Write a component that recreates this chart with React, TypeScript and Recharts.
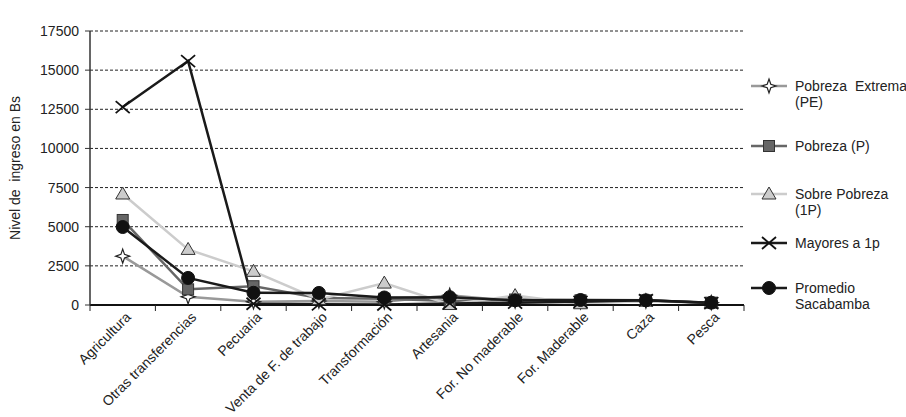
import React from 'react';
import { LineChart, Line, XAxis, YAxis, CartesianGrid, Legend } from 'recharts';

const categories = [
  'Agricultura',
  'Otras transferencias',
  'Pecuaria',
  'Venta de F. de trabajo',
  'Transformación',
  'Artesania',
  'For. No maderable',
  'For. Maderable',
  'Caza',
  'Pesca',
];

const pobrezaExtrema = [3120, 520, 200, 250, 200, 620, 250, 200, 250, 150];
const pobreza = [5430, 1000, 1200, 450, 400, 250, 350, 300, 300, 150];
const sobrePobreza = [7090, 3550, 2150, 350, 1400, 30, 600, 80, 250, 150];
const mayores = [12640, 15580, 80, 40, 30, 100, 150, 200, 300, 120];
const promedio = [4980, 1730, 780, 770, 480, 500, 300, 320, 300, 150];

const yTicks = [0, 2500, 5000, 7500, 10000, 12500, 15000, 17500];

const title = 'SACABAMBA';
const yLabel = 'Nivel de  ingreso en Bs';

const seriesDefs = [
  { key: 'pe', label: ['Pobreza  Extrema', '(PE)'], values: pobrezaExtrema, color: '#999999', marker: 'star' },
  { key: 'p', label: ['Pobreza (P)'], values: pobreza, color: '#666666', marker: 'square' },
  { key: 'sp', label: ['Sobre Pobreza', '(1P)'], values: sobrePobreza, color: '#cccccc', marker: 'triangle' },
  { key: 'm', label: ['Mayores a 1p'], values: mayores, color: '#1a1a1a', marker: 'x' },
  { key: 'prom', label: ['Promedio', 'Sacabamba'], values: promedio, color: '#1a1a1a', marker: 'circle' },
];

const data = categories.map((cat, i) => {
  const row: any = { cat };
  seriesDefs.forEach((s) => {
    row[s.key] = s.values[i];
  });
  return row;
});

const FONT = "'Liberation Sans', Arial, sans-serif";
const HALF_BAND = 32.7;

function Marker({ kind, cx, cy }: { kind: string; cx: number; cy: number }) {
  if (cx == null || cy == null) return null;
  switch (kind) {
    case 'star': {
      const r = 7;
      const s = 1.8;
      const pts = [
        [cx, cy - r], [cx + s, cy - s], [cx + r, cy], [cx + s, cy + s],
        [cx, cy + r], [cx - s, cy + s], [cx - r, cy], [cx - s, cy - s],
      ].map((p) => p.join(',')).join(' ');
      return <polygon points={pts} fill="#ffffff" stroke="#222" strokeWidth={1.2} />;
    }
    case 'square':
      return <rect x={cx - 5.5} y={cy - 5.5} width={11} height={11} fill="#666666" stroke="#333" strokeWidth={1} />;
    case 'triangle':
      return (
        <polygon
          points={`${cx},${cy - 7} ${cx + 7},${cy + 5} ${cx - 7},${cy + 5}`}
          fill="#cccccc"
          stroke="#333"
          strokeWidth={1}
        />
      );
    case 'x':
      return (
        <g stroke="#111" strokeWidth={1.8}>
          <line x1={cx - 7} y1={cy - 6} x2={cx + 7} y2={cy + 6} />
          <line x1={cx - 7} y1={cy + 6} x2={cx + 7} y2={cy - 6} />
        </g>
      );
    case 'circle':
    default:
      return <circle cx={cx} cy={cy} r={6.5} fill="#111" stroke="#111" />;
  }
}

function XTick(props: any) {
  const { x, y, payload, index } = props;
  const half = payload && payload.offset ? payload.offset : HALF_BAND;
  const ax = x + 9;
  const ay = y + 13;
  return (
    <g>
      <line x1={x - half} y1={y} x2={x - half} y2={y + 6} stroke="#222" strokeWidth={1} />
      {index === categories.length - 1 && (
        <line x1={x + half} y1={y} x2={x + half} y2={y + 6} stroke="#222" strokeWidth={1} />
      )}
      <text
        x={ax}
        y={ay}
        textAnchor="end"
        transform={`rotate(-45, ${ax}, ${ay})`}
        fontFamily={FONT}
        fontSize={14}
        fill="#222"
      >
        {payload.value}
      </text>
    </g>
  );
}

function YLabel(props: any) {
  const vb = props.viewBox || { x: 0, y: 31, width: 90, height: 274 };
  const cx = vb.x + 15;
  const cy = vb.y + vb.height / 2;
  return (
    <text
      x={cx}
      y={cy}
      textAnchor="middle"
      dominantBaseline="central"
      transform={`rotate(-90, ${cx}, ${cy})`}
      fontFamily={FONT}
      fontSize={14}
      fill="#222"
      style={{ whiteSpace: 'pre' }}
    >
      {yLabel}
    </text>
  );
}

const legendY = [86, 146, 194, 243, 288];

function LegendContent() {
  return (
    <svg width={161} height={330} style={{ display: 'block' }}>
      {seriesDefs.map((s, i) => {
        const y = legendY[i];
        return (
          <g key={s.key}>
            <line x1={6} y1={y} x2={42} y2={y} stroke={s.color} strokeWidth={2.5} />
            <Marker kind={s.marker} cx={24} cy={y} />
            {s.label.map((t, j) => (
              <text
                key={j}
                x={50}
                y={y + 5 + j * 15.5}
                fontFamily={FONT}
                fontSize={14}
                fill="#222"
                style={{ whiteSpace: 'pre' }}
              >
                {t}
              </text>
            ))}
          </g>
        );
      })}
    </svg>
  );
}

export default function App() {
  return (
    <div style={{ position: 'absolute', left: 0, top: 0, width: 906, height: 417, background: '#fff' }}>
      <LineChart
        width={906}
        height={417}
        data={data}
        margin={{ top: 31, right: 162, bottom: 0, left: 0 }}
        style={{ fontFamily: FONT }}
      >
        <CartesianGrid vertical={false} stroke="#222" strokeDasharray="3 2" strokeWidth={1} />
        <XAxis
          dataKey="cat"
          height={112}
          interval={0}
          padding={{ left: HALF_BAND, right: HALF_BAND }}
          tickLine={false}
          tickSize={0}
          tickMargin={0}
          axisLine={{ stroke: '#111', strokeWidth: 2 }}
          tick={<XTick />}
        />
        <XAxis
          xAxisId="top"
          dataKey="cat"
          orientation="top"
          height={0}
          tick={false}
          tickLine={false}
          axisLine={{ stroke: '#555', strokeWidth: 1.5 }}
          label={{ value: title, position: 'top', offset: 5, fontSize: 14, fill: '#222', fontFamily: FONT }}
        />
        <YAxis
          width={90}
          domain={[0, 17500]}
          ticks={yTicks}
          interval={0}
          tickSize={5}
          tickMargin={6}
          tickLine={{ stroke: '#333' }}
          axisLine={{ stroke: '#333', strokeWidth: 1.5 }}
          tick={{ fontSize: 14, fill: '#222', fontFamily: FONT }}
          label={<YLabel />}
        />
        <YAxis
          yAxisId="right"
          orientation="right"
          width={0}
          domain={[0, 17500]}
          tick={false}
          tickLine={false}
          axisLine={{ stroke: '#555', strokeWidth: 1.5 }}
        />
        <Legend
          layout="vertical"
          align="center"
          verticalAlign="middle"
          content={<LegendContent />}
          wrapperStyle={{ position: 'absolute', left: 745, top: 0, width: 161, height: 330 }}
        />
        {seriesDefs.map((s) => (
          <Line
            key={s.key}
            dataKey={s.key}
            name={s.label.join(' ')}
            stroke={s.color}
            strokeWidth={2.5}
            isAnimationActive={false}
            dot={(p: any) => <Marker key={`${s.key}-${p.index}`} kind={s.marker} cx={p.cx} cy={p.cy} />}
            activeDot={false}
          />
        ))}
      </LineChart>
    </div>
  );
}
